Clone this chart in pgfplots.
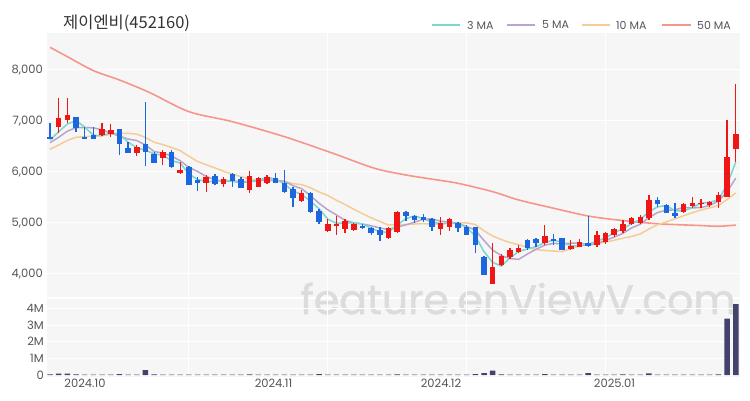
\documentclass[border=0pt]{standalone}
\usepackage{pgfplots}
\pgfplotsset{compat=1.18}
\usepackage{pgfplotstable}
\usepackage{fontspec}
\setmainfont{Poppins}
\newfontfamily\kr{Noto Sans CJK KR}
\newfontfamily\wmf{Poppins}[FakeBold=1.3]
\definecolor{bgc}{RGB}{246,246,246}
\definecolor{upc}{RGB}{240,22,22}
\definecolor{dnc}{RGB}{28,102,222}
\definecolor{ma3}{RGB}{122,214,206}
\definecolor{ma5}{RGB}{184,164,204}
\definecolor{ma10}{RGB}{244,204,150}
\definecolor{ma50}{RGB}{246,150,138}
\definecolor{volc}{RGB}{66,66,108}
\definecolor{labc}{RGB}{85,85,85}
\definecolor{titc}{RGB}{51,51,51}
\definecolor{wm}{RGB}{220,220,220}

\pgfplotstableread{
i O H L C
0 6690 6955 6640 6650
1 6880 7445 6770 7050
2 7020 7445 6955 7120
3 7085 7085 6780 6860
4 6690 6876 6660 6660
5 6725 6876 6640 6645
6 6725 6967 6706 6835
7 6745 6940 6690 6823
8 6837 6837 6333 6549
9 6464 6590 6379 6380
10 6366 6520 6320 6497
11 6549 7380 6118 6398
12 6353 6392 6183 6183
13 6265 6431 6137 6395
14 6398 6431 6080 6092
15 5986 6202 5961 6039
16 6092 6110 5745 5745
17 5843 5908 5627 5778
18 5778 5941 5614 5908
19 5928 5960 5740 5765
20 5765 5908 5712 5856
21 5961 5986 5712 5830
22 5856 5900 5680 5680
23 5647 6026 5582 5922
24 5712 5900 5700 5876
25 5791 5941 5770 5908
26 5876 5986 5778 5778
27 5778 6030 5582 5614
28 5660 5712 5320 5484
29 5437 5647 5418 5582
30 5582 5600 5200 5222
31 5241 5268 4980 5026
32 4849 5072 4830 4980
33 4941 5137 4765 4980
34 4876 5072 4800 5046
35 4863 5000 4850 4980
36 4941 4980 4880 4920
37 4895 4930 4765 4797
38 4863 4915 4653 4765
39 4699 4930 4680 4895
40 4830 5240 4800 5222
41 5222 5240 5040 5137
42 5137 5160 5000 5059
43 5111 5180 5020 5059
44 5072 5090 4850 4928
45 4876 5111 4765 4993
46 4928 5100 4850 5072
47 4993 5020 4830 4895
48 4928 4960 4765 4765
49 4915 4928 4418 4569
50 4327 4350 3980 3980
51 3804 4614 3804 4131
52 4176 4390 4150 4353
53 4327 4510 4300 4471
54 4438 4560 4420 4503
55 4667 4680 4480 4503
56 4680 4700 4520 4601
57 4601 4961 4569 4745
58 4680 4790 4560 4647
59 4699 4699 4471 4471
60 4484 4660 4471 4549
61 4536 4680 4520 4634
62 4601 5137 4536 4549
63 4569 4850 4536 4765
64 4634 4830 4590 4797
65 4765 4895 4730 4876
66 4850 5050 4800 4990
67 4980 5124 4960 5092
68 5007 5150 4990 5124
69 5092 5549 5059 5451
70 5451 5500 5320 5373
71 5353 5373 5190 5203
72 5203 5399 5092 5137
73 5222 5399 5190 5373
74 5333 5516 5288 5399
75 5373 5480 5300 5399
76 5353 5440 5320 5418
77 5418 5600 5300 5549
78 5503 7020 5503 6288
79 6445 7725 6202 6745
}\candles

\pgfplotstableread{
i V
0 40000
1 80000
2 80000
3 40000
4 30000
5 30000
6 30000
7 30000
8 50000
9 30000
10 30000
11 300000
12 40000
13 30000
14 30000
15 30000
16 30000
17 30000
18 30000
19 30000
20 30000
21 30000
22 30000
23 40000
24 30000
25 30000
26 30000
27 30000
28 30000
29 30000
30 30000
31 50000
32 30000
33 30000
34 30000
35 30000
36 30000
37 30000
38 30000
39 30000
40 40000
41 30000
42 30000
43 30000
44 30000
45 30000
46 30000
47 30000
48 30000
49 60000
50 110000
51 260000
52 40000
53 30000
54 30000
55 30000
56 30000
57 50000
58 30000
59 30000
60 30000
61 30000
62 110000
63 30000
64 30000
65 30000
66 40000
67 30000
68 30000
69 100000
70 30000
71 30000
72 30000
73 30000
74 30000
75 30000
76 30000
77 40000
78 3380000
79 4250000
}\vol

\pgfplotstableread{
i m3 m5 m10
0 6627 6575 6445
1 6790 6680 6530
2 6940 6800 6620
3 7010 6870 6680
4 6880 6868 6693
5 6722 6867 6700
6 6713 6824 6710
7 6768 6765 6740
8 6736 6702 6758
9 6584 6646 6757
10 6475 6617 6742
11 6425 6529 6677
12 6359 6401 6583
13 6325 6371 6537
14 6223 6313 6480
15 6175 6221 6419
16 5959 6091 6310
17 5854 6010 6206
18 5810 5912 6142
19 5817 5847 6080
20 5843 5810 6016
21 5817 5827 5959
22 5789 5808 5909
23 5811 5811 5862
24 5826 5833 5840
25 5902 5843 5827
26 5854 5833 5830
27 5767 5820 5814
28 5625 5732 5771
29 5560 5673 5753
30 5429 5536 5690
31 5277 5386 5609
32 5076 5259 5539
33 4995 5158 5445
34 5002 5051 5362
35 5002 5002 5269
36 4982 4981 5183
37 4899 4945 5102
38 4827 4902 5030
39 4819 4871 4961
40 4961 4920 4961
41 5085 4963 4972
42 5139 5016 4980
43 5085 5074 4988
44 5015 5081 4976
45 4993 5035 4978
46 4998 5022 4993
47 4987 4989 5003
48 4911 4931 5003
49 4743 4859 4970
50 4438 4656 4846
51 4227 4468 4745
52 4155 4360 4675
53 4318 4301 4616
54 4442 4288 4573
55 4492 4392 4524
56 4536 4486 4477
57 4616 4565 4462
58 4664 4600 4450
59 4621 4593 4441
60 4556 4603 4497
61 4551 4609 4548
62 4577 4570 4567
63 4649 4594 4597
64 4704 4659 4626
65 4813 4724 4663
66 4888 4795 4702
67 4986 4904 4737
68 5069 4976 4785
69 5222 5107 4883
70 5316 5206 4965
71 5342 5249 5022
72 5238 5258 5081
73 5238 5307 5142
74 5303 5297 5202
75 5390 5302 5254
76 5405 5345 5297
77 5455 5428 5343
78 5752 5611 5459
79 6194 5880 5588
}\mas

\pgfplotstableread{
i m50
0 8445
2 8261
5 7987
8 7804
11.5 7556
16 7183
21 6987
27 6693
32.6 6366
37.4 6072
41 5941
44 5860
47 5778
51 5614
54 5451
58 5290
62 5137
65.4 5059
70 4985
75 4950
77 4935
79 4960
}\maf

\begin{document}
\begin{tikzpicture}
\useasboundingbox (0,0) rectangle (750pt,400pt);
\fill[bgc] (47pt,103pt) rectangle (740pt,367pt);
\fill[bgc] (47pt,23pt) rectangle (740pt,101pt);
\node[anchor=base, text=wm, inner sep=0pt, font=\wmf\fontsize{41}{45}\selectfont] at (518pt,86pt) {feature.enViewV.com};
\node[anchor=west, text=titc, inner sep=0pt, font=\kr\fontsize{16.5}{18}\selectfont] at (63pt,377pt) {제이엔비(452160)};
% legend
\begin{scope}[font=\fontsize{11}{13}\selectfont]
\draw[ma3, line width=1.6pt] (432pt,375pt) -- (460pt,375pt);
\node[anchor=west, text=labc, inner sep=0pt] at (467pt,375pt) {3 MA};
\draw[ma5, line width=1.6pt] (507pt,375pt) -- (535pt,375pt);
\node[anchor=west, text=labc, inner sep=0pt] at (542pt,375pt) {5 MA};
\draw[ma10, line width=1.6pt] (582pt,375pt) -- (610pt,375pt);
\node[anchor=west, text=labc, inner sep=0pt] at (616pt,375pt) {10 MA};
\draw[ma50, line width=1.6pt] (662pt,375pt) -- (691pt,375pt);
\node[anchor=west, text=labc, inner sep=0pt] at (697pt,375pt) {50 MA};
\end{scope}

\begin{axis}[
  at={(47pt,103pt)}, anchor=south west, scale only axis,
  width=693pt, height=264pt,
  xmin=-0.346, xmax=79.49, ymin=3549, ymax=8725,
  axis line style={draw=none}, major tick length=0pt,
  xtick={16,32,48,64}, xticklabels={,,,},
  ytick={4000,5000,6000,7000,8000},
  /pgf/number format/1000 sep={,},
  /pgf/number format/assume math mode=true,
  yticklabel style={font=\fontsize{11.5}{13}\selectfont, text=labc, inner sep=0pt, xshift=-4pt},
  grid=major, grid style={white, line width=1pt},
]
\addplot[ma50, line width=1.6pt, smooth] table[x=i, y=m50] {\maf};
\addplot[ma10, line width=1.5pt] table[x=i, y=m10] {\mas};
\addplot[ma5, line width=1.5pt] table[x=i, y=m5] {\mas};
\addplot[ma3, line width=1.5pt] table[x=i, y=m3] {\mas};
% wicks
\addplot[draw=none, mark=none, restrict expr to domain={\thisrow{C}-\thisrow{O}}{0:100000},
  error bars/.cd, y dir=both, y explicit, error mark=none,
  error bar style={draw=upc, line width=1.3pt}]
  table[x=i, y expr={(\thisrow{H}+\thisrow{L})/2}, y error expr={(\thisrow{H}-\thisrow{L})/2}] {\candles};
\addplot[draw=none, mark=none, restrict expr to domain={\thisrow{C}-\thisrow{O}}{-100000:0},
  error bars/.cd, y dir=both, y explicit, error mark=none,
  error bar style={draw=dnc, line width=1.3pt}]
  table[x=i, y expr={(\thisrow{H}+\thisrow{L})/2}, y error expr={(\thisrow{H}-\thisrow{L})/2}] {\candles};
% bodies
\addplot[draw=none, mark=none, restrict expr to domain={\thisrow{C}-\thisrow{O}}{0:100000},
  error bars/.cd, y dir=both, y explicit, error mark=none,
  error bar style={draw=upc, line width=5.5pt}]
  table[x=i, y expr={(\thisrow{O}+\thisrow{C})/2}, y error expr={max(abs(\thisrow{C}-\thisrow{O})/2,15)}] {\candles};
\addplot[draw=none, mark=none, restrict expr to domain={\thisrow{C}-\thisrow{O}}{-100000:0},
  error bars/.cd, y dir=both, y explicit, error mark=none,
  error bar style={draw=dnc, line width=5.5pt}]
  table[x=i, y expr={(\thisrow{O}+\thisrow{C})/2}, y error expr={max(abs(\thisrow{C}-\thisrow{O})/2,15)}] {\candles};
\end{axis}

\begin{axis}[
  at={(47pt,25pt)}, anchor=south west, scale only axis,
  width=693pt, height=75pt,
  xmin=-0.346, xmax=79.49, ymin=0, ymax=4500000,
  scaled y ticks=false,
  axis line style={draw=none}, major tick length=0pt,
  xtick={16,32,48,64}, xticklabels={,,,},
  extra x ticks={4.03,25.75,45.05,65.03},
  extra x tick labels={2024.10,2024.11,2024.12,2025.01},
  extra x tick style={grid=none, xticklabel style={font=\fontsize{11.5}{13}\selectfont, text=labc, inner sep=0pt, anchor=north, yshift=-4pt}},
  ytick={0,1000000,2000000,3000000,4000000},
  yticklabels={0,1M,2M,3M,4M},
  yticklabel style={font=\fontsize{11.5}{13}\selectfont, text=labc, inner sep=0pt, xshift=-3pt},
  grid=major, grid style={white, line width=1pt},
]
\addplot[ybar, bar width=5.5pt, bar shift=0pt, fill=volc, draw=none] table[x=i, y=V] {\vol};
\end{axis}
\end{tikzpicture}
\end{document}
